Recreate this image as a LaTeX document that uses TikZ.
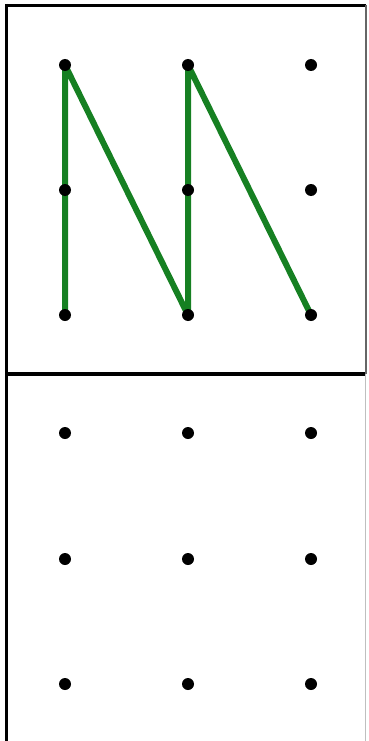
\documentclass[tikz,border=0pt]{standalone}
\usetikzlibrary{backgrounds}
\definecolor{linegreen}{RGB}{22,128,34}
\tikzset{
  dot/.style={circle, fill=black, inner sep=0pt, minimum size=12pt},
  frame/.style={line width=3.5pt, black}
}
\begin{document}
\begin{tikzpicture}[x=1pt, y=-1pt]
\useasboundingbox (0,0) rectangle (368,741);
% frame
\draw[frame] (6.5,5.5) -- (366,5.5);
\draw[frame] (6.5,4) -- (6.5,741);
\draw[frame] (5,374) -- (366,374);
\draw[line width=1.5pt, black!60] (366,5) -- (366,374);
\draw[line width=1pt, black!25] (365,374) -- (365,741);
% upper grid
\node[dot] (ta1) at (65,65) {};
\node[dot] (tb1) at (188,65) {};
\node[dot] (tc1) at (311,65) {};
\node[dot] (ta2) at (65,190) {};
\node[dot] (tb2) at (188,190) {};
\node[dot] (tc2) at (311,190) {};
\node[dot] (ta3) at (65,315) {};
\node[dot] (tb3) at (188,315) {};
\node[dot] (tc3) at (311,315) {};
% lower grid
\node[dot] (ba1) at (65,433) {};
\node[dot] (bb1) at (188,433) {};
\node[dot] (bc1) at (311,433) {};
\node[dot] (ba2) at (65,559) {};
\node[dot] (bb2) at (188,559) {};
\node[dot] (bc2) at (311,559) {};
\node[dot] (ba3) at (65,684) {};
\node[dot] (bb3) at (188,684) {};
\node[dot] (bc3) at (311,684) {};
% green zigzag
\begin{pgfonlayer}{background}
\draw[linegreen, line width=6pt, line join=round]
  (ta3.center) -- (ta1.center) -- (tb3.center) -- (tb1.center) -- (tc3.center);
\end{pgfonlayer}
\end{tikzpicture}
\end{document}
